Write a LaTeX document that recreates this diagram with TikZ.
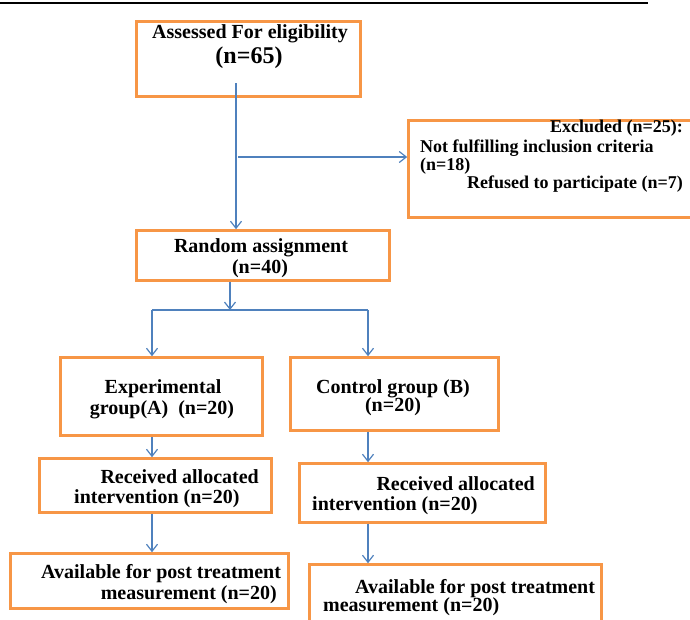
\documentclass[tikz,border=0pt]{standalone}
\usepackage{fontspec}
\setmainfont{Liberation Serif}
\usepackage{tikz}
\usetikzlibrary{arrows.meta}
\definecolor{boxorange}{HTML}{F79646}
\definecolor{arrowblue}{HTML}{4F81BD}

\begin{document}
\begin{tikzpicture}[x=1pt,y=-1pt,
  my box/.style={draw=boxorange, line width=2.6pt, inner sep=0pt},
  my text/.style={font=\bfseries\fontsize{20}{22}\selectfont, inner sep=0pt},
  small text/.style={my text, font=\bfseries\fontsize{18}{20}\selectfont},
  my arrow/.style={draw=arrowblue, line width=1.2pt,
    -{Straight Barb[length=7pt,width=11pt]}},
  ]
  \useasboundingbox (0,0) rectangle (690,619);
  \clip (0,0) rectangle (690,619);
  \draw[line width=1.4pt] (0,3) -- (648,3);
  \node[my box, minimum width=224, minimum height=75] (assess) at (248.5,59) {};
  \node[my box, minimum width=291, minimum height=97] (excl) at (554,169) {};
  \node[my box, minimum width=253, minimum height=50] (rand) at (263,255.5) {};
  \node[my box, minimum width=202, minimum height=78] (expA) at (161.5,396.5) {};
  \node[my box, minimum width=208, minimum height=73] (ctrlB) at (394.5,394) {};
  \node[my box, minimum width=232, minimum height=54] (recvA) at (155.5,485.5) {};
  \node[my box, minimum width=246, minimum height=59] (recvB) at (422.5,493) {};
  \node[my box, minimum width=278, minimum height=55] (availA) at (149.5,581) {};
  \node[my box, minimum width=292, minimum height=65] (availB) at (455.5,597) {};
  \node[my text, anchor=base] (assess1) at (250,38) {Assessed For eligibility};
  \node[my text, anchor=base, font=\bfseries\fontsize{24}{26}\selectfont] (assess2) at (249,63) {(n=65)};
  \node[small text, anchor=base east] (excl1) at (683,132) {Excluded (n=25):};
  \node[small text, anchor=base west] (excl2) at (420,152) {Not fulfilling inclusion criteria};
  \node[small text, anchor=base west] (excl3) at (420,170) {(n=18)};
  \node[small text, anchor=base east] (excl4) at (683,188) {Refused to participate (n=7)};
  \node[my text, anchor=base] (rand1) at (261,252) {Random assignment};
  \node[my text, anchor=base] (rand2) at (260,273) {(n=40)};
  \node[my text, anchor=base] (expA1) at (163,393) {Experimental};
  \node[my text, anchor=base] (expA2) at (162,414) {group(A)~~(n=20)};
  \node[my text, anchor=base] (ctrlB1) at (393,393) {Control group (B)};
  \node[my text, anchor=base] (ctrlB2) at (393,411) {(n=20)};
  \node[my text, anchor=base east] (recvA1) at (259,483) {Received allocated};
  \node[my text, anchor=base west] (recvA2) at (74,503) {intervention (n=20)};
  \node[my text, anchor=base east] (recvB1) at (535,490) {Received allocated};
  \node[my text, anchor=base west] (recvB2) at (312,510) {intervention (n=20)};
  \node[my text, anchor=base west] (availA1) at (41,578) {Available for post treatment};
  \node[my text, anchor=base east] (availA2) at (277,599) {measurement (n=20)};
  \node[my text, anchor=base west] (availB1) at (355,593) {Available for post treatment};
  \node[my text, anchor=base west] (availB2) at (323,611) {measurement (n=20)};
  \coordinate (a1) at (236,83);
  \coordinate (a2) at (238,157);
  \coordinate (split) at (230,310);
  \coordinate (sA) at (152,310);
  \coordinate (sB) at (368,310);
  \draw[my arrow] (a1) -- (a1 |- rand.north);
  \draw[my arrow] (a2) -- (a2 -| excl.west);
  \draw[my arrow] (split |- rand.south) -- (split);
  \draw[draw=arrowblue, line width=1.2pt] (sA) -- (sB);
  \draw[my arrow] (sA) -- (sA |- expA.north);
  \draw[my arrow] (sB) -- (sB |- ctrlB.north);
  \draw[my arrow] (sA |- expA.south) -- (sA |- recvA.north);
  \draw[my arrow] (sA |- recvA.south) -- (sA |- availA.north);
  \draw[my arrow] (sB |- ctrlB.south) -- (sB |- recvB.north);
  \draw[my arrow] (sB |- recvB.south) -- (sB |- availB.north);
\end{tikzpicture}
\end{document}
